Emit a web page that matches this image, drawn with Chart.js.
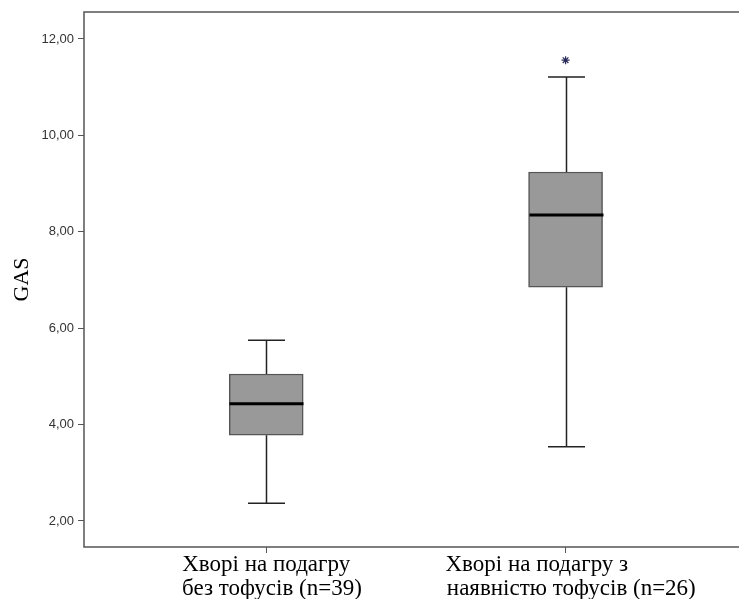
<!DOCTYPE html>
<html>
<head>
<meta charset="utf-8">
<script src="https://cdn.jsdelivr.net/npm/chart.js@4.4.0/dist/chart.umd.min.js"></script>
<style>
  html, body { margin: 0; padding: 0; background: #fff; }
  #wrap { width: 739px; height: 599px; }
</style>
</head>
<body>
<div id="wrap"><canvas id="myChart"></canvas></div>
<script>
// Boxplot values
var sp = '\u00a0';
var categories = [
  [sp + sp + 'Хворі на подагру' + sp + sp, sp + sp + 'без тофусів (n=39)'],
  [sp + sp + 'Хворі на подагру з' + sp.repeat(12), sp + sp + 'наявністю тофусів (n=26)']
];
var positions = [1, 2];
var whiskerLow = [2.37, 3.54];
var q1 = [3.78, 6.85];
var median = [4.43, 8.35];
var q3 = [5.05, 9.24];
var whiskerHigh = [5.75, 11.21];
var outliers = [[], [11.56]];
var yTicks = [2, 4, 6, 8, 10, 12];

var boxData = positions.map(function (p, i) { return { x: p, y: [q1[i], q3[i]] }; });
var outlierData = [];
outliers.forEach(function (list, i) {
  list.forEach(function (v) { outlierData.push({ x: positions[i], y: v }); });
});

// whiskers, caps and medians drawn with the chart's own scales
var boxExtras = {
  id: 'boxExtras',
  afterDatasetsDraw: function (chart) {
    var ctx = chart.ctx, xs = chart.scales.x, ys = chart.scales.y;
    ctx.save();
    positions.forEach(function (p, i) {
      var cx = Math.round(xs.getPixelForValue(p)) + 0.5;
      var half = 37, cap = 18.5;
      ctx.strokeStyle = '#222';
      ctx.lineWidth = 1.5;
      ctx.beginPath();
      ctx.moveTo(cx, ys.getPixelForValue(q3[i]));
      ctx.lineTo(cx, ys.getPixelForValue(whiskerHigh[i]));
      ctx.moveTo(cx, ys.getPixelForValue(q1[i]));
      ctx.lineTo(cx, ys.getPixelForValue(whiskerLow[i]));
      ctx.moveTo(cx - cap, ys.getPixelForValue(whiskerHigh[i]));
      ctx.lineTo(cx + cap, ys.getPixelForValue(whiskerHigh[i]));
      ctx.moveTo(cx - cap, ys.getPixelForValue(whiskerLow[i]));
      ctx.lineTo(cx + cap, ys.getPixelForValue(whiskerLow[i]));
      ctx.stroke();
      ctx.strokeStyle = '#000';
      ctx.lineWidth = 3;
      ctx.beginPath();
      ctx.moveTo(cx - half, ys.getPixelForValue(median[i]));
      ctx.lineTo(cx + half, ys.getPixelForValue(median[i]));
      ctx.stroke();
    });
    // frame: top, left and bottom (right side runs off the picture)
    var a = chart.chartArea;
    ctx.strokeStyle = '#555';
    ctx.lineWidth = 1.5;
    ctx.beginPath();
    ctx.moveTo(chart.width, a.top);
    ctx.lineTo(a.left, a.top);
    ctx.lineTo(a.left, a.bottom);
    ctx.lineTo(chart.width, a.bottom);
    ctx.stroke();
    ctx.restore();
  }
};

var config = {
  type: 'bar',
  data: {
    datasets: [
      {
        type: 'bar',
        data: boxData,
        backgroundColor: '#999999',
        borderColor: '#555555',
        borderWidth: 1.5,
        borderSkipped: false,
        barThickness: 74,
        grouped: false
      },
      {
        type: 'scatter',
        data: outlierData,
        pointStyle: 'star',
        radius: 4,
        borderColor: '#2a2a5a',
        borderWidth: 1.2
      }
    ]
  },
  options: {
    responsive: true,
    maintainAspectRatio: false,
    animation: false,
    layout: { padding: { top: 12, right: 0, left: 0, bottom: 0 } },
    plugins: {
      legend: { display: false },
      tooltip: { enabled: false }
    },
    scales: {
      x: {
        type: 'linear',
        offset: false,
        min: 0.3913,
        max: 2.562,
        afterBuildTicks: function (scale) {
          scale.ticks = positions.map(function (p) { return { value: p }; });
        },
        afterFit: function (scale) { scale.height = 52; },
        grid: { offset: false, drawOnChartArea: false, drawTicks: true, tickLength: 6, color: '#555', lineWidth: 1 },
        border: { display: false },
        ticks: {
          autoSkip: false,
          maxRotation: 0,
          minRotation: 0,
          align: 'center',
          padding: 0,
          color: '#000',
          font: { family: 'Liberation Serif', size: 23, lineHeight: 1.04 },
          callback: function (v) {
            var i = positions.indexOf(v);
            return i >= 0 ? categories[i] : '';
          }
        }
      },
      y: {
        min: 1.46,
        max: 12.56,
        afterBuildTicks: function (scale) {
          scale.ticks = yTicks.map(function (v) { return { value: v }; });
        },
        afterFit: function (scale) { scale.width = 84; },
        grid: { drawOnChartArea: false, drawTicks: true, tickLength: 6, color: '#555', lineWidth: 1 },
        border: { display: false },
        title: {
          display: true,
          text: 'GAS',
          color: '#000',
          padding: { top: 9, bottom: 0 },
          font: { family: 'Liberation Serif', size: 22 }
        },
        ticks: {
          padding: 4,
          color: '#333',
          font: { family: 'Liberation Sans', size: 13 },
          callback: function (v) { return v.toFixed(2).replace('.', ','); }
        }
      }
    }
  },
  plugins: [boxExtras]
};

var myChart = new Chart(document.getElementById('myChart').getContext('2d'), config);
</script>
</body>
</html>
